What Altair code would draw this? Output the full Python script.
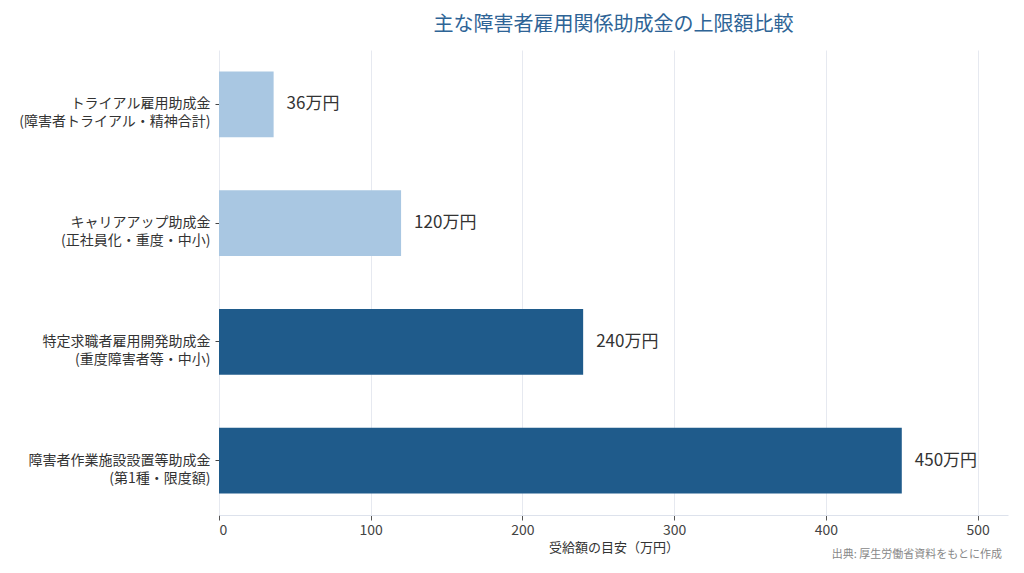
import altair as alt
import pandas as pd

categories = [
    "トライアル雇用助成金\n(障害者トライアル・精神合計)",
    "キャリアアップ助成金\n(正社員化・重度・中小)",
    "特定求職者雇用開発助成金\n(重度障害者等・中小)",
    "障害者作業施設設置等助成金\n(第1種・限度額)",
]
values = [36, 120, 240, 450]
labels = ["36万円", "120万円", "240万円", "450万円"]
groups = ["light", "light", "dark", "dark"]

df = pd.DataFrame({"cat": categories, "val": values, "lab": labels, "grp": groups})

W, H = 789, 465
FONT = "Noto Sans CJK JP"

y_enc = alt.Y(
    "cat:N",
    sort=categories,
    title=None,
    scale=alt.Scale(paddingInner=0.445, paddingOuter=0.18),
    axis=alt.Axis(
        labelExpr="split(datum.label, '\\n')",
        labelLineHeight=18,
        labelFontSize=14,
        labelColor="#333333",
        labelFont=FONT,
        labelPadding=5,
        labelLimit=400,
        tickSize=4,
        tickColor="#444444",
        domain=False,
        grid=False,
    ),
)

x_enc = alt.X(
    "val:Q",
    title="受給額の目安（万円）",
    scale=alt.Scale(domain=[0, 520], nice=False),
    axis=alt.Axis(
        values=[0, 100, 200, 300, 400, 500],
        labelFontSize=14,
        labelColor="#444444",
        labelFont=FONT,
        labelPadding=3,
        titleFont=FONT,
        titleFontSize=13,
        titleFontWeight="normal",
        titleColor="#333333",
        titlePadding=4,
        tickSize=5,
        tickColor="#555555",
        domainColor="#dde2ec",
        gridColor="#e6e9f0",
        grid=True,
    ),
)

bars = alt.Chart(df).mark_bar().encode(
    y=y_enc,
    x=x_enc,
    color=alt.Color(
        "grp:N",
        scale=alt.Scale(domain=["light", "dark"], range=["#a9c7e2", "#1f5b8b"]),
        legend=None,
    ),
)

text = alt.Chart(df).mark_text(
    align="left", baseline="middle", dx=13, fontSize=17, color="#333333", font=FONT
).encode(y=alt.Y("cat:N", sort=categories), x="val:Q", text="lab:N")

note = alt.Chart(pd.DataFrame({"t": ["出典: 厚生労働省資料をもとに作成"]})).mark_text(
    align="right", baseline="middle", fontSize=11, color="#888888", font=FONT
).encode(x=alt.value(W - 6), y=alt.value(H + 40), text="t:N")

chart = (
    alt.layer(bars, text, note)
    .properties(
        width=W,
        height=H,
        view=alt.ViewBackground(strokeWidth=0, strokeOpacity=0),
        title=alt.TitleParams(
            "主な障害者雇用関係助成金の上限額比較",
            fontSize=20,
            fontWeight="normal",
            color="#2e6496",
            font=FONT,
            anchor="middle",
            offset=15,
        ),
        autosize=alt.AutoSizeParams(type="none"),
        padding={"left": 211, "top": 42, "right": 4, "bottom": 58},
    )
    .configure_view(strokeWidth=0, strokeOpacity=0)
    .configure(background="white")
)

chart.save("out.html", embed_options={"renderer": "svg", "actions": False})
